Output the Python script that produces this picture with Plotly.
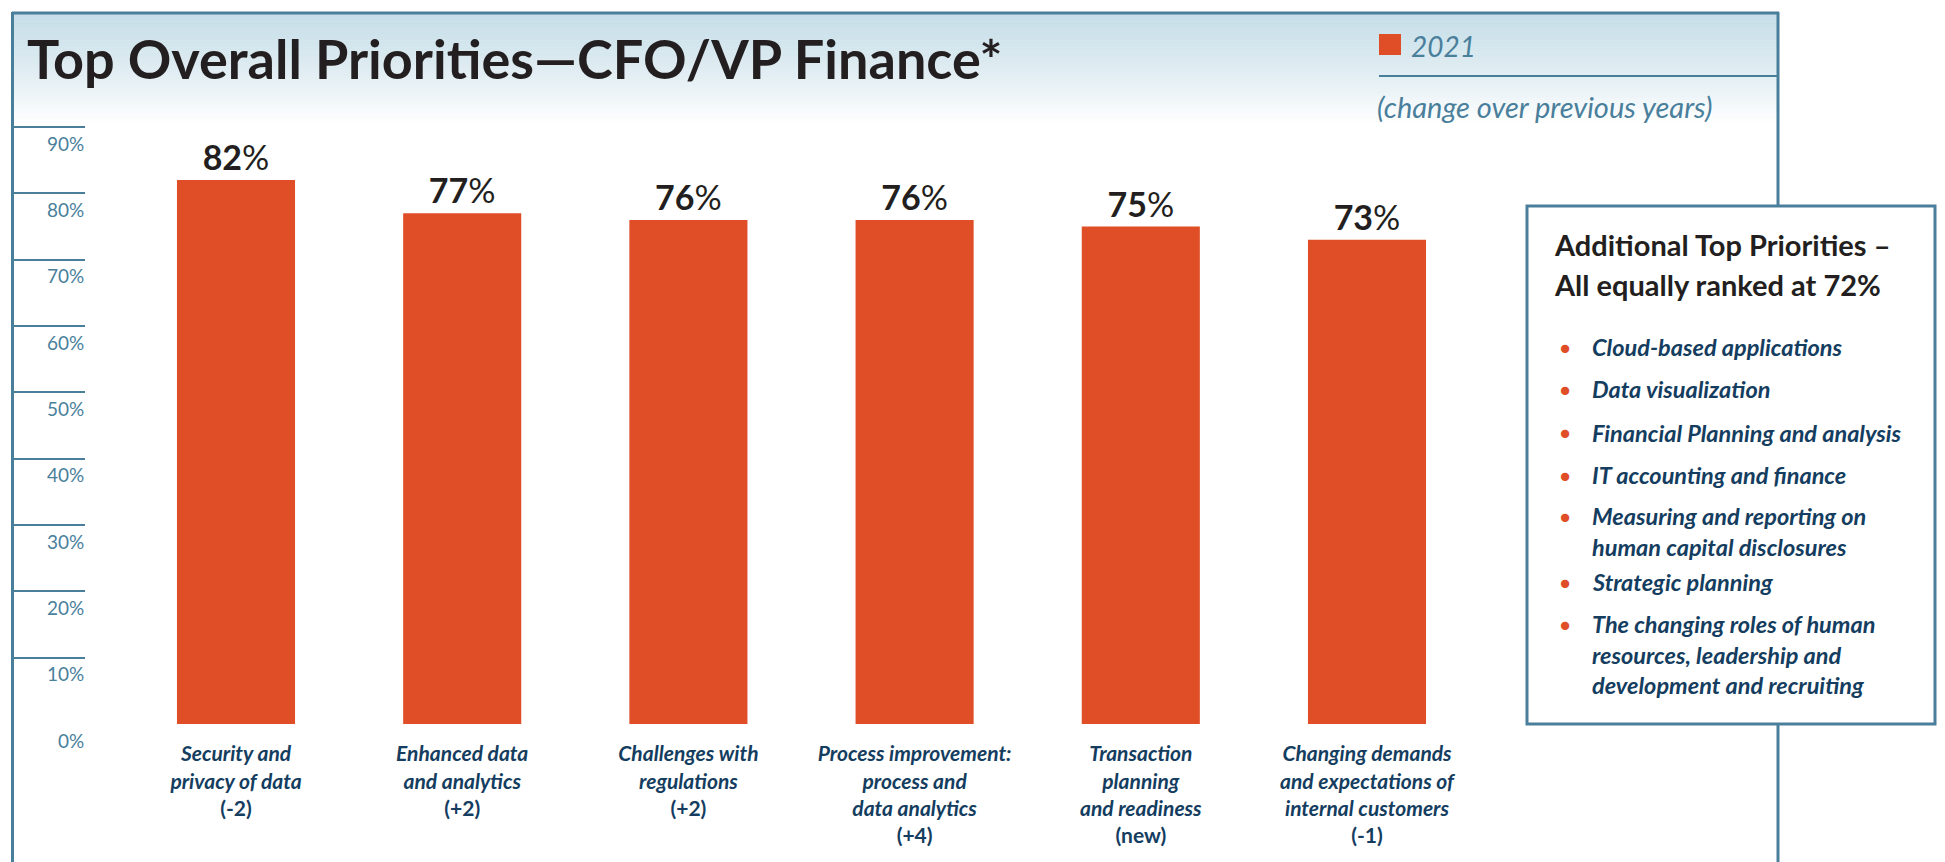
import plotly.graph_objects as go

W, H = 1945, 862

title_text = "Top Overall Priorities\u2014CFO/VP Finance*"
series_name = "2021"
legend_note = "(change over previous years)"

categories = [
    ["Security and", "privacy of data"],
    ["Enhanced data", "and analytics"],
    ["Challenges with", "regulations"],
    ["Process improvement:", "process and", "data analytics"],
    ["Transaction", "planning", "and readiness"],
    ["Changing demands", "and expectations of", "internal customers"],
]
values = [82, 77, 76, 76, 75, 73]
changes = ["(-2)", "(+2)", "(+2)", "(+4)", "(new)", "(-1)"]
y_ticks = [0, 10, 20, 30, 40, 50, 60, 70, 80, 90]

box_title = ["Additional Top Priorities \u2013", "All equally ranked at 72%"]
extra_priorities = [
    ["Cloud-based applications"],
    ["Data visualization"],
    ["Financial Planning and analysis"],
    ["IT accounting and finance"],
    ["Measuring and reporting on", "human capital disclosures"],
    ["Strategic planning"],
    ["The changing roles of human", "resources, leadership and", "development and recruiting"],
]

ORANGE = "#e04e28"
TEAL = "#4a7f9c"
NAVY = "#143d60"
DARK = "#231f20"
FONT = "Lato"


def px(x):
    return x / W


def py(y):
    return 1 - y / H


labels = ["<br>".join([f"<b><i>{l}</i></b>" for l in c] + [f"<b>{ch}</b>"]) for c, ch in zip(categories, changes)]
xpos = list(range(len(values)))

fig = go.Figure()
fig.add_trace(go.Bar(
    x=xpos, y=values, name=series_name,
    text=[str(v) for v in values],
    marker=dict(color=ORANGE, line=dict(width=0)),
    texttemplate="<b>%{text}</b>%", textposition="outside",
    textfont=dict(family=FONT, size=34, color=DARK),
    cliponaxis=False, showlegend=False, hoverinfo="skip",
))

# geometry (pixels)
base_y = 724
per_unit = 6.633
ymax = 92
top_y = base_y - ymax * per_unit
axis_x = 12.5          # frame border = y axis position
slot = 226.2           # pixels per category
first_center = 236
x_left = -(first_center - axis_x) / slot
x_right = len(values) - 0.5
dom_right = first_center + (x_right) * slot

shapes = []
# header gradient
g_top, g_bot = 13, 122
n = 40
c0 = (200, 223, 233)
for i in range(n):
    t = (i / n) ** 1.2
    r = int(c0[0] + (255 - c0[0]) * t)
    g = int(c0[1] + (255 - c0[1]) * t)
    b = int(c0[2] + (255 - c0[2]) * t)
    y0 = g_top + (g_bot - g_top) * i / n
    y1 = g_top + (g_bot - g_top) * (i + 1) / n + 0.5
    shapes.append(dict(type="rect", xref="paper", yref="paper", x0=px(12), x1=px(1778),
                       y0=py(y1), y1=py(y0), fillcolor=f"rgb({r},{g},{b})", line=dict(width=0), layer="below"))
# frame
fl = dict(color=TEAL, width=3)
shapes.append(dict(type="line", xref="paper", yref="paper", x0=px(12), x1=px(1779), y0=py(13), y1=py(13), line=fl))
shapes.append(dict(type="line", xref="paper", yref="paper", x0=px(12.5), x1=px(12.5), y0=py(12), y1=py(870), line=fl))
shapes.append(dict(type="line", xref="paper", yref="paper", x0=px(1778), x1=px(1778), y0=py(12), y1=py(870), line=fl))
# legend separator
shapes.append(dict(type="line", xref="paper", yref="paper", x0=px(1379), x1=px(1778), y0=py(76), y1=py(76),
                   line=dict(color=TEAL, width=2)))
# legend square
shapes.append(dict(type="rect", xref="paper", yref="paper", x0=px(1379), x1=px(1401), y0=py(55), y1=py(34),
                   fillcolor=ORANGE, line=dict(width=0)))
# right box
shapes.append(dict(type="rect", xref="paper", yref="paper", x0=px(1527), x1=px(1935), y0=py(724), y1=py(206),
                   fillcolor="white", line=dict(color=TEAL, width=3)))

ann = []
ann.append(dict(text=f"<b>{title_text}</b>", x=px(25), y=py(59), xref="paper", yref="paper",
                xanchor="left", yanchor="middle", showarrow=False,
                font=dict(family=FONT, size=54, color=DARK, weight=900)))
ann.append(dict(text=f"<i>{series_name}</i>", x=px(1409), y=py(46), xref="paper", yref="paper",
                xanchor="left", yanchor="middle", showarrow=False,
                font=dict(family=FONT, size=28, color=TEAL)))
ann.append(dict(text=f"<i>{legend_note}</i>", x=px(1375), y=py(106), xref="paper", yref="paper",
                xanchor="left", yanchor="middle", showarrow=False,
                font=dict(family=FONT, size=29, color=TEAL)))
# y tick labels, placed on the y scale
for v in y_ticks:
    ann.append(dict(text=f"{v}%", x=px(86), y=v, xref="paper", yref="y",
                    xanchor="right", yanchor="middle", yshift=-16, showarrow=False,
                    font=dict(family=FONT, size=19, color=TEAL)))
# box title
for i, line in enumerate(box_title):
    ann.append(dict(text=f"<b>{line}</b>", x=px(1552), y=py(244 + 40 * i), xref="paper", yref="paper",
                    xanchor="left", yanchor="middle", showarrow=False,
                    font=dict(family=FONT, size=29, color=DARK)))
# bullet items
item_y = [347, 389, 433, 475, 516, 582, 624]
ITEM_FS = 23.5
LH = ITEM_FS * 1.3
for yy, item in zip(item_y, extra_priorities):
    ann.append(dict(text="\u25cf", x=px(1565), y=py(yy), xref="paper", yref="paper",
                    xanchor="center", yanchor="middle", showarrow=False,
                    font=dict(family=FONT, size=17, color=ORANGE)))
    center = yy + (len(item) - 1) * LH / 2
    ann.append(dict(text="<br>".join(f"<b><i>{l}</i></b>" for l in item), x=px(1590), y=py(center),
                    xref="paper", yref="paper", align="left",
                    xanchor="left", yanchor="middle", showarrow=False,
                    font=dict(family=FONT, size=ITEM_FS, color=NAVY)))

fig.update_layout(
    width=W, height=H, autosize=False,
    margin=dict(l=0, r=0, t=0, b=0),
    paper_bgcolor="white", plot_bgcolor="rgba(0,0,0,0)",
    bargap=0.478,
    shapes=shapes, annotations=ann,
    xaxis=dict(domain=[px(axis_x), px(dom_right)], range=[x_left, x_right],
               tickmode="array", tickvals=xpos, ticktext=labels, tickangle=0,
               tickfont=dict(family=FONT, size=21, color=NAVY),
               showgrid=False, showline=False, zeroline=False,
               ticks="outside", ticklen=11, tickcolor="rgba(0,0,0,0)", fixedrange=True),
    yaxis=dict(domain=[py(base_y), py(top_y)], range=[0, ymax],
               tickmode="array", tickvals=y_ticks, showticklabels=False,
               ticks="inside", ticklen=72, tickwidth=2, tickcolor=TEAL,
               showgrid=False, showline=False, zeroline=False, fixedrange=True),
)

fig.write_html("out.html", config={"displayModeBar": False},
               post_script="document.body.style.margin='0';")
